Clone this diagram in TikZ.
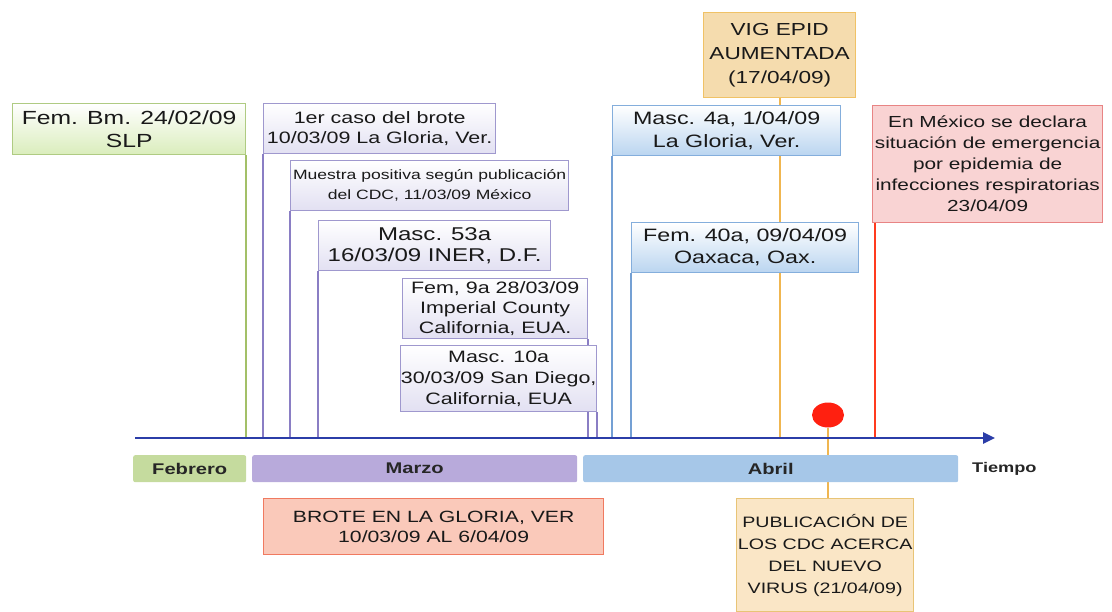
\documentclass[tikz,border=0pt]{standalone}
\usepackage{fontspec}
\setmainfont{Liberation Sans}[FakeStretch=1.3]
\usetikzlibrary{arrows.meta,shapes.geometric}
\newcommand{\tlFont}[2]{\fontsize{#1}{#2}\selectfont}
\definecolor{grBorder}{HTML}{AFCB82}
\definecolor{grFill}{HTML}{DAEDBC}
\definecolor{grBar}{HTML}{C5DB9E}
\definecolor{grLine}{HTML}{A3C068}
\definecolor{puBorder}{HTML}{9F98CE}
\definecolor{puFill}{HTML}{E2E0F2}
\definecolor{puBar}{HTML}{B8AADB}
\definecolor{puLine}{HTML}{8A7EC4}
\definecolor{blBorder}{HTML}{84AEDC}
\definecolor{blFill}{HTML}{BAD5F0}
\definecolor{blBar}{HTML}{A6C7E8}
\definecolor{blLine}{HTML}{74A0D4}
\definecolor{orBorder}{HTML}{F0C266}
\definecolor{vigFill}{HTML}{F5DCAE}
\definecolor{orLine}{HTML}{F0B650}
\definecolor{mxBorder}{HTML}{E88484}
\definecolor{mxFill}{HTML}{F9D3D3}
\definecolor{rdLine}{HTML}{FF3B1E}
\definecolor{btBorder}{HTML}{F07A60}
\definecolor{btFill}{HTML}{FAC9BA}
\definecolor{pbBorder}{HTML}{E8C476}
\definecolor{pbFill}{HTML}{FAE6C6}
\definecolor{axCol}{HTML}{2B3DA8}
\definecolor{dotCol}{HTML}{FF2010}

\begin{document}
\begin{tikzpicture}[x=1pt,y=-1pt,
  evbox/.style={draw, line width=1.3pt, inner sep=0pt, anchor=north west, align=center, text=black!90},
  grbox/.style={evbox, draw=grBorder, top color=white, bottom color=grFill},
  pubox/.style={evbox, draw=puBorder, top color=white, bottom color=puFill},
  blbox/.style={evbox, draw=blBorder, top color=white, bottom color=blFill},
  month/.style={anchor=north west, inner sep=0pt, rounded corners=2pt, font={\tlFont{15.5}{18}\bfseries}, text=black!85, minimum height=27},
  grline/.style={grLine, line width=2pt},
  puline/.style={puLine, line width=2pt},
  blline/.style={blLine, line width=2pt},
  orline/.style={orLine, line width=2pt},
  rdline/.style={rdLine, line width=2pt}]
\useasboundingbox (0,0) rectangle (1112,611);
\coordinate (ax0) at (135,438);
\coordinate (ax1) at (995,438);
% events in February and March
\node[grbox, minimum width=233, minimum height=51, font={\tlFont{19}{23}}] (fembm) at (12,103) {Fem. Bm. 24/02/09\\SLP};
\draw[grline] (fembm.south east) -- (fembm.south east |- ax0);
\node[pubox, minimum width=232, minimum height=50, font={\tlFont{16.5}{20}}] (caso1) at (263,103) {1er caso del brote\\10/03/09 La Gloria, Ver.};
\draw[puline] (caso1.south west) -- (caso1.south west |- ax0);
\node[pubox, minimum width=278, minimum height=50, font={\tlFont{13.5}{20}}] (muestra) at (290,160) {Muestra positiva según publicación\\del CDC, 11/03/09 México};
\draw[puline] (muestra.south west) -- (muestra.south west |- ax0);
\node[pubox, minimum width=232, minimum height=50, font={\tlFont{18.5}{21}}] (masc53) at (318,220) {Masc. 53a\\16/03/09 INER, D.F.};
\draw[puline] (masc53.south west) -- (masc53.south west |- ax0);
\node[pubox, minimum width=185, minimum height=60, font={\tlFont{16.5}{20}}] (fem9) at (402,278) {Fem, 9a 28/03/09\\Imperial County\\California, EUA.};
\draw[puline] (fem9.south east) -- (fem9.south east |- ax0);
\node[pubox, minimum width=196, minimum height=66, font={\tlFont{16.5}{21}}] (masc10) at (400,345) {Masc. 10a\\30/03/09 San Diego,\\California, EUA};
\draw[puline] (masc10.south east) -- (masc10.south east |- ax0);
% events in April
\node[evbox, draw=orBorder, fill=vigFill, minimum width=152, minimum height=85, font={\tlFont{17.4}{24}}] (vig) at (703,12) {VIG EPID\\AUMENTADA\\(17/04/09)};
\draw[orline] (vig.south) -- (vig.south |- ax0);
\node[blbox, minimum width=228, minimum height=50, font={\tlFont{17.9}{23}}] (masc4) at (612,105) {Masc. 4a, 1/04/09\\La Gloria, Ver.};
\draw[blline] (masc4.south west) -- (masc4.south west |- ax0);
\node[blbox, minimum width=227, minimum height=50, font={\tlFont{17.9}{22}}] (fem40) at (631,222) {Fem. 40a, 09/04/09\\Oaxaca, Oax.};
\draw[blline] (fem40.south west) -- (fem40.south west |- ax0);
\node[evbox, draw=mxBorder, fill=mxFill, minimum width=230, minimum height=117, font={\tlFont{16}{21}}] (mexico) at (872,105) {En México se declara\\situación de emergencia\\por epidemia de\\infecciones respiratorias\\23/04/09};
\draw[rdline] ([xshift=3pt]mexico.south west) -- ([xshift=3pt]mexico.south west |- ax0);
% publication below the axis
\node[evbox, draw=pbBorder, fill=pbFill, minimum width=177, minimum height=113, font={\tlFont{15.1}{22}}] (pubcdc) at (736,498) {PUBLICACIÓN DE\\LOS CDC ACERCA\\DEL NUEVO\\VIRUS (21/04/09)};
\node[ellipse, fill=dotCol, minimum width=32, minimum height=25, inner sep=0pt] (dot) at (828,415) {};
\draw[orline] (dot) -- (dot |- pubcdc.north);
% months
\node[month, fill=grBar, minimum width=113] (feb) at (133,455) {Febrero};
\node[month, fill=puBar, minimum width=325] (mar) at (252,455) {Marzo};
\node[month, fill=blBar, minimum width=375] (abr) at (583,455) {Abril};
\node[anchor=west, inner sep=0pt, font={\tlFont{14}{17}\bfseries}, text=black!85] (tiempo) at (972,469) {Tiempo};
\node[evbox, draw=btBorder, fill=btFill, minimum width=340, minimum height=56, font={\tlFont{16.3}{20}}] (brote) at (263,498) {BROTE EN LA GLORIA, VER\\10/03/09 AL 6/04/09};
% time axis
\draw[axCol, line width=2.5pt, -{Triangle[length=12pt,width=11pt]}] (ax0) -- (ax1);
\end{tikzpicture}
\end{document}
